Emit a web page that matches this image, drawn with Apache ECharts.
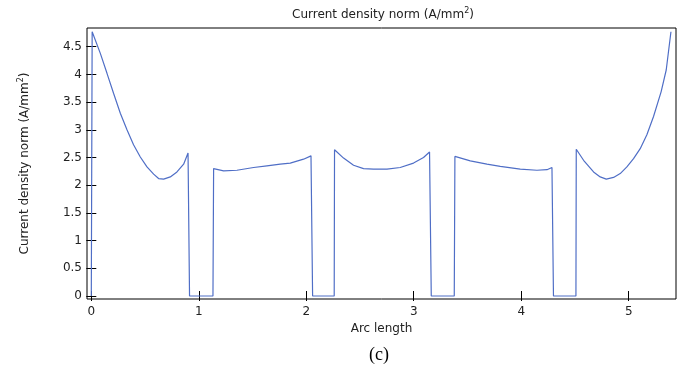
<!DOCTYPE html>
<html>
<head>
<meta charset="utf-8">
<script src="https://cdn.jsdelivr.net/npm/echarts@6/dist/echarts.min.js"></script>
<style>
html,body{margin:0;padding:0;background:#fff;}
#chart{width:686px;height:370px;}
</style>
</head>
<body>
<div id="chart"></div>
<script>
// Arc length values (x) and current density norm (y, A/mm^2)
var arcLength = [
  0.000, 0.008, 0.020, 0.084, 0.146, 0.207, 0.270, 0.332, 0.393, 0.456, 0.518, 0.580, 0.626, 0.673, 0.735, 0.797, 0.859, 0.900,
  0.914, 1.132,
  1.138, 1.231, 1.355, 1.510, 1.634, 1.758, 1.851, 1.975, 2.044,
  2.059, 2.260,
  2.263, 2.347, 2.440, 2.533, 2.626, 2.751, 2.874, 2.998, 3.091, 3.147,
  3.163, 3.377,
  3.383, 3.526, 3.681, 3.805, 3.991, 4.146, 4.240, 4.286,
  4.300, 4.509,
  4.512, 4.580, 4.673, 4.735, 4.791, 4.859, 4.921, 4.983, 5.045, 5.107, 5.169, 5.231, 5.302, 5.349, 5.393
];
var currentDensity = [
  0.00, 4.77, 4.74, 4.38, 4.02, 3.66, 3.30, 3.00, 2.73, 2.51, 2.33, 2.20, 2.12, 2.11, 2.15, 2.24, 2.38, 2.58,
  0.00, 0.00,
  2.30, 2.26, 2.27, 2.32, 2.35, 2.38, 2.40, 2.47, 2.53,
  0.00, 0.00,
  2.64, 2.49, 2.36, 2.30, 2.29, 2.29, 2.32, 2.40, 2.50, 2.60,
  0.00, 0.00,
  2.52, 2.44, 2.38, 2.34, 2.29, 2.27, 2.28, 2.32,
  0.00, 0.00,
  2.65, 2.45, 2.24, 2.15, 2.11, 2.14, 2.21, 2.33, 2.48, 2.66, 2.91, 3.24, 3.69, 4.08, 4.77
];
var xTicks = [0, 1, 2, 3, 4, 5];
var yTicks = [0, 0.5, 1, 1.5, 2, 2.5, 3, 3.5, 4, 4.5];

var titleText = 'Current density norm (A/mm';
var captionText = '(c)';

var seriesData = arcLength.map(function (x, i) { return [x, currentDensity[i]]; });

var FONT = 'DejaVu Sans';
var TXT = '#222';
var chart = echarts.init(document.getElementById('chart'), null, {renderer: 'canvas'});

var supRich = {
  a: {fontFamily: FONT, fontSize: 12, fontWeight: 'normal', color: TXT},
  sup: {fontFamily: FONT, fontSize: 8, fontWeight: 'normal', color: TXT, verticalAlign: 'top', padding: [0, 0, 7, 0]}
};

chart.setOption({
  animation: false,
  backgroundColor: '#fff',
  title: {
    text: '{a|' + titleText + '}{sup|2}{a|)}',
    left: 292,
    top: 7,
    padding: 0,
    textStyle: {fontWeight: 'normal', rich: supRich}
  },
  grid: {
    left: 87, right: 10, top: 28, bottom: 71,
    show: true, borderColor: '#000', borderWidth: 1, backgroundColor: 'transparent'
  },
  xAxis: [{
    type: 'value', min: -0.04, max: 5.44,
    position: 'bottom',
    name: 'Arc length', nameLocation: 'middle', nameGap: 24,
    nameTextStyle: {fontFamily: FONT, fontSize: 12, color: TXT},
    axisLine: {show: false},
    splitLine: {show: false},
    axisTick: {show: true, inside: true, length: 5, customValues: xTicks, lineStyle: {color: '#000'}},
    axisLabel: {show: true, customValues: xTicks, margin: 7, fontFamily: FONT, fontSize: 12, color: TXT}
  }, {
    type: 'value', min: -0.04, max: 5.44,
    position: 'top',
    axisLine: {show: false},
    splitLine: {show: false},
    axisTick: {show: true, inside: true, length: 5, customValues: xTicks, lineStyle: {color: '#000'}},
    axisLabel: {show: false}
  }],
  yAxis: [{
    type: 'value', min: -0.054, max: 4.838,
    position: 'left',
    name: '{a|Current density norm (A/mm}{sup|2}{a|)}',
    nameLocation: 'middle', nameGap: 55,
    nameTextStyle: {rich: supRich},
    axisLine: {show: false},
    splitLine: {show: false},
    axisTick: {show: true, inside: true, length: 5, customValues: yTicks, lineStyle: {color: '#000'}},
    axisLabel: {show: true, customValues: yTicks, margin: 5, fontFamily: FONT, fontSize: 12, color: TXT}
  }, {
    type: 'value', min: -0.054, max: 4.838,
    position: 'right',
    axisLine: {show: false},
    splitLine: {show: false},
    axisTick: {show: true, inside: true, length: 5, customValues: yTicks, lineStyle: {color: '#000'}},
    axisLabel: {show: false}
  }],
  graphic: [{
    type: 'text',
    x: 379, y: 355,
    style: {
      text: captionText,
      font: '18px "Liberation Serif", "Times New Roman", serif',
      fill: '#000',
      textAlign: 'center',
      textVerticalAlign: 'middle'
    }
  }],
  series: [{
    type: 'line',
    xAxisIndex: 0, yAxisIndex: 0,
    data: seriesData,
    showSymbol: false,
    symbol: 'none',
    smooth: false,
    lineStyle: {color: '#4f6ec6', width: 1.2},
    clip: true
  }]
});
</script>
</body>
</html>
